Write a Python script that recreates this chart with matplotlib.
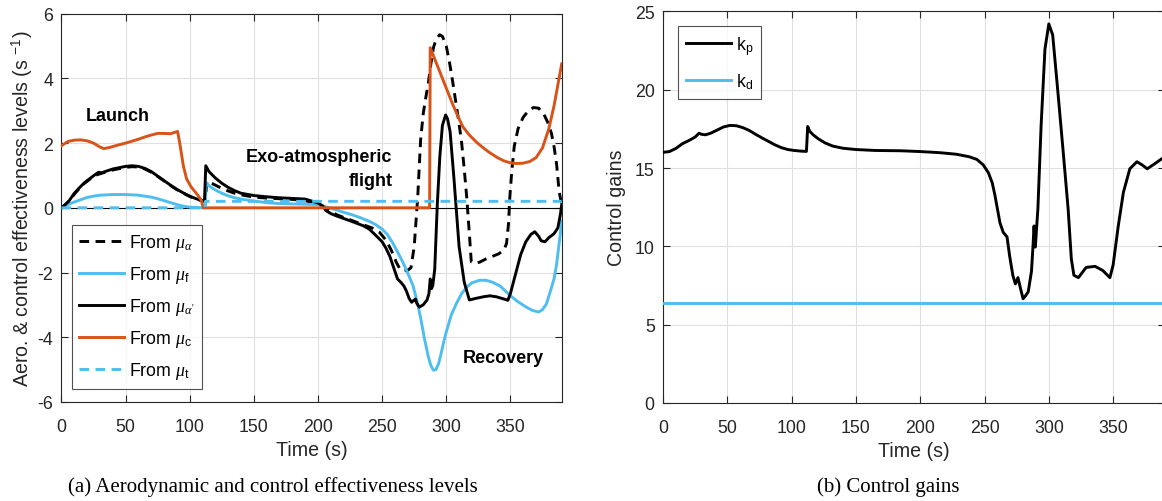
import matplotlib
matplotlib.use("Agg")
import matplotlib.pyplot as plt

plt.rcParams['font.family'] = ['Liberation Sans', 'DejaVu Sans']
plt.rcParams['mathtext.fontset'] = 'custom'
plt.rcParams['mathtext.rm'] = 'Liberation Sans'
plt.rcParams['mathtext.it'] = 'Liberation Serif:italic'
plt.rcParams['mathtext.bf'] = 'Liberation Sans:bold'
plt.rcParams['axes.unicode_minus'] = False

# ---------------- data: panel (a) ----------------
ma_t = [0, 3, 6, 10, 14, 18, 22, 26, 30, 34,
        40, 45, 50, 55, 60, 65, 70, 75, 80, 85,
        90, 95, 100, 105, 110, 112, 113.5, 116, 120, 125,
        130, 135, 140, 150, 160, 170, 180, 190, 200, 205,
        210, 215, 220, 227, 235, 242, 248, 253, 257, 261,
        264, 267, 270, 272.5, 275, 277.7, 280, 282, 284, 286,
        288, 290, 292, 294.8, 297, 300, 302.5, 305, 307.5, 310,
        312, 314, 316, 318, 319.5, 322, 326, 331, 336, 341,
        345, 347, 348.5, 349.5, 351, 353, 356, 360, 364, 368,
        372, 376, 379, 382, 384, 386, 388, 389.5, 390]
ma_v = [0, 0.1, 0.2, 0.42, 0.6, 0.76, 0.88, 1.0, 1.05, 1.1,
        1.17, 1.21, 1.25, 1.27, 1.26, 1.2, 1.1, 0.97, 0.83, 0.69,
        0.56, 0.45, 0.35, 0.27, 0.21, 0.2, 0.82, 0.78, 0.7, 0.6,
        0.52, 0.45, 0.4, 0.33, 0.3, 0.28, 0.26, 0.22, 0.12, 0.02,
        -0.12, -0.22, -0.3, -0.4, -0.52, -0.62, -0.76, -1.0, -1.3, -1.68,
        -1.9, -1.95, -1.93, -1.85, -1.2, 0.3, 2.1, 2.9, 3.4, 3.85,
        4.45, 4.95, 5.2, 5.35, 5.3, 5.0, 4.5, 3.9, 3.25, 2.6,
        2.0, 1.2, 0.3, -0.8, -1.67, -1.72, -1.68, -1.58, -1.5, -1.42,
        -1.3, -1.1, -0.5, 0.3, 1.1, 1.9, 2.45, 2.8, 3.0, 3.1,
        3.08, 2.9, 2.65, 2.3, 1.9, 1.35, 0.5, 0.2, 0.15]

mf_t = [0, 5, 10, 15, 20, 25, 30, 35, 40, 45,
        50, 55, 60, 65, 70, 75, 80, 85, 90, 95,
        100, 105, 110, 112, 112.8, 115, 120, 125, 130, 135,
        140, 150, 160, 170, 180, 190, 200, 207, 214, 220,
        227, 234, 240, 245, 250, 254, 258, 262, 266, 270,
        274, 277, 280, 283, 286, 288, 290, 292, 294, 296,
        298, 300, 304, 308, 312, 316, 320, 326, 331, 336,
        342, 349, 355, 362, 367, 372, 375, 378, 381, 384,
        386, 388, 389.5, 390]
mf_v = [0, 0.1, 0.18, 0.25, 0.32, 0.36, 0.39, 0.4, 0.41, 0.41,
        0.41, 0.4, 0.39, 0.36, 0.33, 0.28, 0.22, 0.16, 0.1, 0.05,
        0.02, 0.01, 0.0, 0.0, 0.78, 0.68, 0.55, 0.45, 0.37, 0.31,
        0.27, 0.21, 0.16, 0.13, 0.12, 0.11, 0.1, 0.02, -0.06, -0.14,
        -0.22, -0.32, -0.42, -0.52, -0.66, -0.82, -1.07, -1.36, -1.67, -2.02,
        -2.4, -2.85, -3.4, -4.05, -4.6, -4.88, -5.02, -5.0, -4.82, -4.5,
        -4.15, -3.84, -3.3, -2.95, -2.65, -2.45, -2.32, -2.24, -2.24, -2.3,
        -2.42, -2.68, -2.88, -3.06, -3.17, -3.22, -3.15, -2.98, -2.6, -2.2,
        -1.75, -1.1, -0.6, -0.4]

ma2_t = [0, 3, 6, 10, 14, 18, 22, 26, 29, 31,
         34, 40, 45, 50, 55, 60, 65, 70, 75, 80,
         85, 90, 95, 100, 105, 110, 111.5, 112.5, 115, 120,
         125, 130, 135, 140, 150, 160, 170, 180, 190, 200,
         204, 206, 210, 215, 220, 227, 235, 240, 245, 250,
         253, 256, 259, 262, 265, 267, 269, 271, 273, 275,
         276, 277, 279, 282, 285, 286.5, 287.5, 288.5, 289.5, 291,
         293, 295, 297, 299.5, 301, 303, 306, 310, 314, 318,
         323, 329, 334, 339, 345, 348, 350, 352, 355, 358,
         362, 366, 369, 372, 374, 377, 380, 384, 387, 389,
         390]
ma2_v = [0, 0.1, 0.22, 0.45, 0.62, 0.78, 0.9, 1.02, 1.1, 1.08,
         1.12, 1.2, 1.24, 1.28, 1.3, 1.28, 1.22, 1.12, 0.98, 0.84,
         0.7, 0.57, 0.46, 0.36, 0.28, 0.22, 0.2, 1.3, 1.12, 0.92,
         0.76, 0.63, 0.53, 0.45, 0.38, 0.34, 0.31, 0.29, 0.27, 0.15,
         0.05, -0.08, -0.18, -0.26, -0.33, -0.43, -0.55, -0.66, -0.85, -1.05,
         -1.25, -1.5, -1.85, -2.2, -2.32, -2.42, -2.58, -2.8, -2.92, -2.85,
         -2.82, -2.95, -3.07, -3.0, -2.85, -2.65, -2.2, -2.5, -2.4, -1.9,
         0.1, 1.6, 2.55, 2.87, 2.75, 2.35, 0.9, -1.2, -2.3, -2.85,
         -2.8, -2.75, -2.72, -2.75, -2.82, -2.86, -2.65, -2.35, -1.9, -1.45,
         -1.05, -0.82, -0.74, -0.88, -1.02, -1.05, -0.92, -0.8, -0.62, -0.2,
         0.1]

mc_t = [0, 5, 10, 15, 20, 25, 30, 33, 38, 45,
        50, 55, 60, 65, 70, 75, 80, 85, 88, 90.5,
        92, 94, 95, 97.5, 101, 106.5, 109, 110.5, 287,
        287.5, 290, 295, 300, 305, 310, 313, 318, 323, 328,
        334, 340, 345, 350, 355, 360, 365, 370, 375, 380,
        384, 387, 390]
mc_v = [1.92, 2.05, 2.09, 2.1, 2.07, 2.0, 1.88, 1.83, 1.87, 1.95,
        2.0, 2.06, 2.12, 2.19, 2.25, 2.3, 2.3, 2.29, 2.33, 2.36,
        2.05, 1.55, 1.3, 0.9, 0.65, 0.38, 0.23, 0.0, 0.0,
        4.95, 4.7, 4.2, 3.7, 3.2, 2.75, 2.5, 2.25, 2.05, 1.88,
        1.7, 1.55, 1.45, 1.39, 1.37, 1.38, 1.43, 1.55, 1.85, 2.45,
        3.15, 3.8, 4.45]

mt_t = [0, 111.8, 112.2, 390]
mt_v = [0, 0, 0.2, 0.2]

labels_a = [r'From $\mu_{\alpha}$', r'From $\mu_{\mathrm{f}}$', r"From $\mu_{\alpha'}$",
            r'From $\mu_{\mathrm{c}}$', r'From $\mu_{\mathrm{t}}$']

# ---------------- data: panel (b) ----------------
kp_t = [0, 5, 10, 15, 20, 25, 28, 30, 33, 37,
        42, 47, 52, 57, 62, 67, 72, 77, 82, 87,
        92, 97, 102, 107, 111.5, 112.5, 114, 117, 121, 126,
        132, 140, 150, 165, 185, 200, 215, 228, 238, 244,
        249, 253, 256, 258, 260, 262, 264.5, 267.5, 269.5, 272,
        274, 276, 278, 280, 282, 284, 286.5, 287.7, 288.5, 289.5,
        291.5, 294, 297, 300, 303, 307, 311, 315, 317.5, 319.5,
        323, 329, 336, 342, 347.5, 350, 354, 358, 363, 368.5,
        372.5, 376.5, 382, 388, 390]
kp_v = [16.0, 16.05, 16.25, 16.55, 16.75, 16.98, 17.22, 17.15, 17.12, 17.22,
        17.42, 17.62, 17.72, 17.7, 17.58, 17.4, 17.15, 16.92, 16.7, 16.48,
        16.3, 16.18, 16.12, 16.08, 16.06, 17.65, 17.35, 17.1, 16.85, 16.6,
        16.4, 16.26, 16.18, 16.12, 16.1, 16.05, 15.98, 15.88, 15.72, 15.55,
        15.2, 14.7, 14.05, 13.3, 12.4, 11.5, 10.9, 10.6, 9.4, 8.15,
        7.6, 8.0, 7.3, 6.65, 6.85, 7.1, 8.4, 10.0, 11.3, 9.95,
        12.4, 17.7, 22.6, 24.2, 23.5, 19.9, 16.2, 12.4, 9.2, 8.15,
        8.0, 8.65, 8.72, 8.45, 8.0, 8.8, 11.3, 13.45, 14.95, 15.4,
        15.2, 14.95, 15.25, 15.6, 15.7]
kd_t = [0, 390]
kd_v = [6.4, 6.4]
labels_b = [r'k$_\mathregular{p}$', r'k$_\mathregular{d}$']

# ---------------- styling ----------------
BLACK = 'black'
BLUE = '#4DBEEE'
ORANGE = '#D95319'
AX_COL = '#262626'
GRID_COL = '#dfdfdf'
LW = 2.1
DASH = (0, (3.3, 2.2))
TICK_FS = 12.8
LAB_FS = 14.1

fig = plt.figure(figsize=(11.62, 5.02), dpi=100)

def style(ax):
    ax.grid(True, color=GRID_COL, lw=0.8)
    ax.set_axisbelow(True)
    for s in ax.spines.values():
        s.set_color(AX_COL)
        s.set_linewidth(0.8)
    ax.tick_params(direction='in', length=5, width=0.8, colors=AX_COL,
                   labelsize=TICK_FS, top=True, right=True)
    ax.tick_params(axis='x', pad=11.5)
    ax.tick_params(axis='y', pad=6)
    for lab in ax.get_xticklabels() + ax.get_yticklabels():
        lab.set_color(AX_COL)

# panel (a)
ax1 = fig.add_axes([0.0529, 0.1974, 0.4305, 0.7733])
ax1.axhline(0, color='black', lw=0.8, zorder=1)
l1, = ax1.plot(ma_t, ma_v, color=BLACK, lw=LW, linestyle=DASH, zorder=3)
l2, = ax1.plot(mf_t, mf_v, color=BLUE, lw=LW, zorder=3)
l3, = ax1.plot(ma2_t, ma2_v, color=BLACK, lw=LW, zorder=3)
l4, = ax1.plot(mc_t, mc_v, color=ORANGE, lw=LW, zorder=3)
l5, = ax1.plot(mt_t, mt_v, color=BLUE, lw=LW, linestyle=DASH, zorder=3)
ax1.set_xlim(0, 390)
ax1.set_ylim(-6, 6)
ax1.set_xticks(range(0, 351, 50))
ax1.set_yticks(range(-6, 7, 2))
style(ax1)
ax1.set_xlabel('Time (s)', fontsize=LAB_FS, color=AX_COL, labelpad=4)
ax1.set_ylabel('Aero. & control effectiveness levels (s $^{-1}$)', fontsize=LAB_FS,
               color=AX_COL, labelpad=2)
ax1.text(44, 2.85, 'Launch', fontsize=13, fontweight='bold', ha='center', va='center')
ax1.text(258, 1.22, 'Exo-atmospheric\nflight', fontsize=13, fontweight='bold',
         ha='right', va='center', multialignment='right', linespacing=1.55)
ax1.text(344.5, -4.62, 'Recovery', fontsize=13, fontweight='bold', ha='center', va='center')
leg1 = ax1.legend([l1, l2, l3, l4, l5], labels_a, loc='upper left',
                  bbox_to_anchor=(0.0206, 0.455), fontsize=TICK_FS, frameon=True,
                  fancybox=False, edgecolor=AX_COL, handlelength=2.55,
                  handletextpad=0.25, labelspacing=0.62, borderpad=0.4,
                  borderaxespad=0.0)
leg1.get_frame().set_linewidth(0.8)

# panel (b)
ax2 = fig.add_axes([0.5706, 0.1954, 0.4316, 0.7799])
k1, = ax2.plot(kp_t, kp_v, color=BLACK, lw=LW, zorder=3)
k2, = ax2.plot(kd_t, kd_v, color=BLUE, lw=LW, zorder=3)
ax2.set_xlim(0, 390)
ax2.set_ylim(0, 25)
ax2.set_xticks(range(0, 351, 50))
ax2.set_yticks(range(0, 26, 5))
style(ax2)
ax2.set_xlabel('Time (s)', fontsize=LAB_FS, color=AX_COL, labelpad=4)
ax2.set_ylabel('Control gains', fontsize=LAB_FS, color=AX_COL, labelpad=6)
leg2 = ax2.legend([k1, k2], labels_b, loc='upper left',
                  bbox_to_anchor=(0.0296, 0.962), fontsize=TICK_FS, frameon=True,
                  fancybox=False, edgecolor=AX_COL, handlelength=2.55,
                  handletextpad=0.25, labelspacing=0.8, borderpad=0.45,
                  borderaxespad=0.0)
leg2.get_frame().set_linewidth(0.8)

# captions
fig.text(273 / 1162, 1 - 487 / 502, '(a) Aerodynamic and control effectiveness levels',
         family='Liberation Serif', fontsize=15, ha='center', va='center')
fig.text(888 / 1162, 1 - 487 / 502, '(b) Control gains',
         family='Liberation Serif', fontsize=15, ha='center', va='center')

fig.savefig('out.png', dpi=100)
